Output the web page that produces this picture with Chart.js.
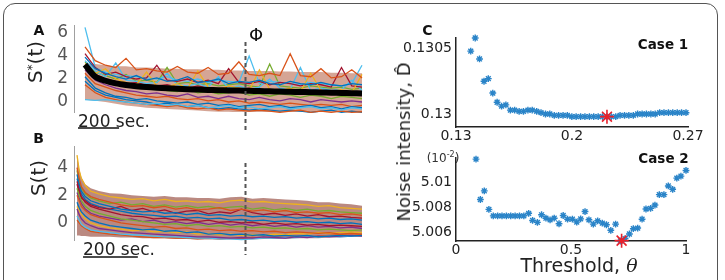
<!DOCTYPE html>
<html><head><meta charset="utf-8">
<script src="https://cdn.jsdelivr.net/npm/chart.js@4/dist/chart.umd.min.js"></script>
<style>
html,body{margin:0;padding:0;background:#fff;width:725px;height:280px;overflow:hidden;font-family:'DejaVu Sans',sans-serif;}
#wrap{position:relative;width:725px;height:280px;overflow:hidden;}
canvas{position:absolute;}
.t{position:absolute;white-space:nowrap;line-height:1;color:#222;}
.frame{position:absolute;left:3px;top:3px;width:715px;height:320px;border:1.5px solid #555;border-radius:12px;box-sizing:border-box;}
</style></head>
<body><div id="wrap">
<div class="frame"></div>
<canvas id="cA" width="370" height="130" style="left:0;top:0"></canvas>
<canvas id="cB" width="370" height="150" style="left:0;top:130px"></canvas>
<canvas id="c1" width="355" height="145" style="left:370px;top:0"></canvas>
<canvas id="c2" width="355" height="135" style="left:370px;top:145px"></canvas>
</div>
<script>
// ---------- Panel A data (time in s) ----------
const tA = [0,50,100,150,200,250,300,350,400,450,500,550,600,650,700,750,800,850,900,950,1000,1050,1100,1150,1200,1250,1300,1350];
const meanA = [3.25,2.2,1.85,1.62,1.48,1.38,1.3,1.24,1.19,1.15,1.11,1.08,1.05,1.03,1.01,0.99,0.97,0.95,0.93,0.91,0.89,0.87,0.85,0.83,0.81,0.79,0.77,0.75];
const upperA = [3.4,3.3,3.2,3.1,3.1,3.0,3.0,2.95,2.9,2.9,2.85,2.85,2.8,2.8,2.75,2.75,2.7,2.7,2.7,2.65,2.65,2.6,2.6,2.6,2.55,2.55,2.5,2.5];
const lowerA = [0.2,0.1,0.0,-0.15,-0.3,-0.4,-0.5,-0.55,-0.6,-0.65,-0.7,-0.75,-0.8,-0.85,-0.85,-0.9,-0.9,-0.95,-0.95,-1.0,-1.0,-1.0,-1.0,-1.05,-1.05,-1.05,-1.05,-1.05];
const traceA1 = [4.8,3.6,3.2,3.0,3.8,2.8,2.9,2.7,2.6,3.1,2.6,2.5,3.0,2.4,2.5,3.5,2.4,2.3,2.5,2.3,4.2,2.3,2.2,2.9,2.1,2.2,2.8,2.1];
const traceA2 = [3.9,2.9,2.5,2.2,2.0,2.3,1.9,2.1,1.8,1.9,2.2,1.7,1.8,2.0,1.6,1.8,1.7,1.9,1.6,1.5,1.8,1.6,1.5,1.7,1.5,1.4,1.6,1.5];
const traceA3 = [3.3,2.5,2.9,2.0,1.7,1.5,2.6,1.4,1.3,1.6,1.2,2.7,1.3,1.1,1.4,1.2,1.0,2.8,1.1,1.0,1.2,0.9,2.5,1.0,0.9,1.1,0.8,2.4];
const traceA4 = [2.8,1.9,1.5,1.2,1.0,0.9,0.7,0.8,0.6,0.5,0.7,0.4,0.5,0.3,0.5,0.3,0.2,0.4,0.2,0.1,0.3,0.2,0.0,0.2,0.1,0.0,0.1,0.0];
const traceA5 = [3.1,2.2,1.8,1.6,1.3,1.4,1.1,1.2,1.0,0.9,1.1,0.8,0.9,0.7,0.8,0.9,0.6,0.7,0.5,0.7,0.6,0.4,0.6,0.5,0.3,0.5,0.4,0.3];
const traceA6 = [0.2,0.15,0.2,0.1,0.0,-0.1,-0.2,-0.1,-0.3,-0.2,-0.4,-0.3,-0.5,-0.4,-0.3,-0.5,-0.4,-0.6,-0.5,-0.4,-0.6,-0.5,-0.4,-0.6,-0.5,-0.7,-0.5,-0.6];
const traceA7 = [4.2,3.0,2.4,2.6,2.2,2.0,2.1,3.2,1.9,1.8,2.0,1.7,1.9,1.6,2.9,1.7,1.6,1.8,1.5,1.7,1.6,1.4,1.6,1.5,1.3,3.0,1.4,1.3];
const traceA8 = [1.5,0.8,0.4,0.2,0.0,-0.1,-0.2,-0.3,-0.4,-0.3,-0.5,-0.6,-0.5,-0.7,-0.6,-0.7,-0.8,-0.7,-0.8,-0.9,-0.8,-0.7,-0.9,-0.8,-0.9,-0.8,-0.9,-0.85];
const traceA9 = [2.2,1.2,0.8,0.5,0.4,0.2,0.3,0.1,0.0,-0.1,0.0,-0.2,-0.1,-0.3,-0.2,-0.4,-0.3,-0.2,-0.4,-0.3,-0.5,-0.4,-0.3,-0.5,-0.4,-0.6,-0.4,-0.5];
const traceA10 = [3.6,2.7,2.2,3.4,1.9,1.8,1.6,1.7,2.5,1.5,1.4,1.6,1.3,2.2,1.2,1.4,1.1,1.3,2.0,1.2,1.1,3.0,1.0,1.2,1.0,1.1,1.9,1.0];
const traceA11 = [6.5,3.0,2.6,2.4,2.3,2.2,2.1,2.0,2.2,1.9,1.8,2.0,1.7,1.9,1.8,1.7,4.0,1.6,1.8,1.7,1.6,1.5,1.7,1.6,1.5,1.4,1.6,3.2];
const traceA12 = [2.5,1.6,1.3,1.0,0.8,0.6,0.5,0.4,0.5,0.3,0.2,0.3,0.1,0.2,0.0,0.1,-0.1,0.0,-0.1,-0.2,-0.1,-0.2,-0.3,-0.2,-0.3,-0.2,-0.4,-0.3];
const traceA13 = [3.0,2.4,2.0,1.8,1.6,1.7,1.5,1.4,1.5,1.3,1.2,1.4,1.2,1.1,1.3,1.1,1.2,1.0,1.1,1.0,0.9,1.1,0.9,1.0,0.8,0.9,0.8,0.7];
const traceA14 = [3.5,2.6,2.3,2.0,2.4,1.8,1.9,1.7,3.0,1.6,1.7,1.5,1.6,1.4,1.5,1.6,1.4,1.3,3.3,1.4,1.3,1.2,1.4,1.3,1.2,1.3,1.1,1.2];
const traceA15 = [1.8,1.0,0.6,0.4,0.2,0.1,0.0,-0.2,-0.1,-0.3,-0.4,-0.3,-0.5,-0.6,-0.5,-0.6,-0.7,-0.6,-0.7,-0.8,-0.7,-0.8,-0.9,-0.8,-0.7,-0.9,-0.8,-0.9];
const ticksA = [0,2,4,6];
const phiA = 780;
const barA = [-34,166];

// ---------- Panel B data ----------
const tB = [0,8,16,30,50,80,120,160,200,240,280,320,360,400,440,480,520,560,600,640,680,720,760,800,840,880,920,960,1000,1040];
const upperB = [4.9,3.9,3.3,2.8,2.5,2.3,2.15,2.1,2.0,1.95,1.9,1.95,1.85,1.85,1.8,1.8,1.75,1.85,1.9,1.75,1.8,1.75,1.7,1.65,1.6,1.5,1.5,1.4,1.35,1.25];
const lowerB = [-0.9,-0.9,-0.95,-0.95,-1.0,-1.0,-1.0,-1.05,-1.05,-1.1,-1.1,-1.1,-1.15,-1.15,-1.2,-1.2,-1.2,-1.2,-1.2,-1.2,-1.15,-1.15,-1.15,-1.1,-1.1,-1.1,-1.05,-1.05,-1.0,-1.0];
const traceB1 = [4.9,3.8,3.2,2.7,2.3,2.1,1.9,1.8,1.7,1.75,1.6,1.7,1.55,1.6,1.5,1.55,1.45,1.6,1.65,1.5,1.55,1.45,1.4,1.35,1.3,1.2,1.25,1.1,1.05,1.0];
const traceB2 = [4.0,3.2,2.6,2.2,1.9,1.7,1.5,1.3,1.2,1.25,1.1,1.2,1.0,1.1,0.95,1.0,1.1,0.9,1.0,0.85,0.95,0.8,0.9,0.75,0.8,0.7,0.75,0.6,0.65,0.55];
const traceB3 = [3.5,2.8,2.3,1.9,1.6,1.4,1.2,1.0,0.9,0.8,0.85,0.7,0.75,0.6,0.7,0.55,0.6,0.5,0.55,0.45,0.5,0.4,0.45,0.35,0.4,0.3,0.35,0.25,0.3,0.2];
const traceB4 = [3.0,2.4,1.9,1.5,1.2,1.0,0.8,0.6,0.5,0.45,0.3,0.35,0.2,0.25,0.1,0.2,0.05,0.1,0.0,0.05,-0.1,0.0,-0.1,-0.05,-0.15,-0.1,-0.2,-0.15,-0.2,-0.25];
const traceB5 = [2.5,2.0,1.6,1.2,0.9,0.7,0.5,0.3,0.2,0.1,0.0,-0.1,-0.05,-0.2,-0.1,-0.25,-0.2,-0.3,-0.25,-0.35,-0.3,-0.4,-0.35,-0.45,-0.4,-0.5,-0.45,-0.5,-0.55,-0.5];
const traceB6 = [2.0,1.6,1.2,0.9,0.6,0.4,0.2,0.0,-0.1,-0.2,-0.3,-0.25,-0.4,-0.35,-0.5,-0.45,-0.55,-0.5,-0.6,-0.55,-0.65,-0.6,-0.7,-0.65,-0.7,-0.75,-0.7,-0.8,-0.75,-0.8];
const traceB7 = [1.5,1.1,0.8,0.5,0.2,0.0,-0.2,-0.3,-0.4,-0.5,-0.45,-0.6,-0.55,-0.7,-0.65,-0.8,-0.75,-0.85,-0.8,-0.9,-0.85,-0.95,-0.9,-0.95,-0.9,-1.0,-0.95,-0.9,-0.95,-0.9];
const traceB8 = [1.0,0.6,0.3,0.0,-0.2,-0.4,-0.5,-0.6,-0.7,-0.75,-0.8,-0.85,-0.9,-0.95,-1.0,-1.0,-1.05,-1.1,-1.05,-1.1,-1.0,-1.05,-1.1,-1.0,-1.05,-0.95,-1.0,-0.95,-0.9,-0.95];
const traceB9 = [0.5,0.2,-0.1,-0.3,-0.5,-0.6,-0.7,-0.8,-0.85,-0.9,-0.95,-1.0,-1.0,-1.05,-1.1,-1.1,-1.15,-1.15,-1.2,-1.15,-1.1,-1.1,-1.05,-1.05,-1.0,-1.0,-0.95,-1.0,-0.95,-0.9];
const traceB10 = [2.8,2.2,1.8,1.6,1.3,1.1,1.0,1.2,0.9,1.05,0.8,0.95,0.7,0.85,0.9,0.65,0.8,0.7,1.0,0.75,0.6,0.7,0.55,0.65,0.5,0.6,0.45,0.5,0.4,0.35];
const traceB11 = [3.8,3.0,2.5,2.1,1.8,1.6,1.4,1.5,1.3,1.4,1.2,1.3,1.15,1.25,1.1,1.2,1.05,1.15,1.2,1.0,1.1,0.95,1.05,0.9,1.0,0.85,0.9,0.8,0.75,0.7];
const traceB12 = [2.2,1.8,1.4,1.0,0.7,0.5,0.35,0.2,0.3,0.1,0.2,0.0,0.1,-0.05,0.05,-0.1,0.0,-0.15,-0.05,-0.2,-0.1,-0.25,-0.15,-0.3,-0.2,-0.3,-0.25,-0.35,-0.3,-0.4];
const traceB13 = [1.2,0.9,0.6,0.3,0.0,-0.2,-0.35,-0.45,-0.55,-0.5,-0.65,-0.6,-0.7,-0.65,-0.8,-0.75,-0.85,-0.8,-0.9,-0.85,-0.9,-0.8,-0.85,-0.75,-0.8,-0.7,-0.75,-0.7,-0.65,-0.7];
const traceB14 = [3.2,2.6,2.1,1.7,1.4,1.2,1.0,0.85,0.7,0.6,0.55,0.45,0.5,0.35,0.4,0.3,0.35,0.2,0.25,0.15,0.2,0.1,0.15,0.05,0.1,0.0,0.05,-0.05,0.0,-0.1];
const traceB15 = [0.2,0.0,-0.2,-0.4,-0.6,-0.7,-0.8,-0.85,-0.95,-1.0,-1.05,-1.05,-1.1,-1.1,-1.15,-1.1,-1.15,-1.1,-1.15,-1.05,-1.1,-1.0,-1.05,-0.95,-1.0,-0.95,-0.9,-0.85,-0.9,-0.85];
const ticksB = [0,2,4];
const phiB = 613;
const barB = [22,222];

// ---------- Panel C, case 1 ----------
const theta1 = [0.1389,0.1416,0.1442,0.1469,0.1495,0.1522,0.1548,0.1575,0.1601,0.1628,0.1654,0.1681,0.1707,0.1734,0.1760,0.1787,0.1813,0.1840,0.1866,0.1893,0.1919,0.1946,0.1972,0.1999,0.2025,0.2052,0.2078,0.2105,0.2131,0.2158,0.2184,0.2211,0.2237,0.2264,0.2290,0.2317,0.2343,0.2370,0.2396,0.2423,0.2449,0.2476,0.2502,0.2529,0.2555,0.2582,0.2608,0.2635,0.2661,0.2688];
const noise1 = [0.13048,0.13058,0.13042,0.13025,0.13027,0.13016,0.13009,0.13006,0.13007,0.13003,0.13003,0.13002,0.13002,0.13003,0.13003,0.13002,0.13001,0.13000,0.13000,0.12999,0.12999,0.12999,0.12999,0.12998,0.12998,0.12998,0.12998,0.12998,0.12998,0.12998,0.12998,0.12998,0.12998,0.12998,0.12999,0.12999,0.12999,0.12999,0.13000,0.13000,0.13000,0.13000,0.13000,0.13001,0.13001,0.13001,0.13001,0.13001,0.13001,0.13001];
const best1 = [0.2211,0.12998];
const xTicks1 = [0.13,0.2,0.27];
const xLabels1 = ['0.13','0.2','0.27'];
const yTicks1 = [0.13,0.1305];
const yLabels1 = ['0.13','0.1305'];

// ---------- Panel C, case 2 (values in units of 10^-2) ----------
const theta2 = [0.087,0.106,0.123,0.143,0.162,0.181,0.200,0.219,0.238,0.257,0.276,0.295,0.316,0.333,0.354,0.372,0.391,0.409,0.427,0.448,0.466,0.485,0.506,0.525,0.542,0.561,0.578,0.597,0.616,0.636,0.654,0.673,0.694,0.715,0.735,0.754,0.771,0.790,0.809,0.826,0.846,0.865,0.884,0.904,0.923,0.942,0.960,0.978,1.000];
const noise2 = [5.01192,5.00864,5.00934,5.00784,5.00731,5.00731,5.00731,5.00731,5.00731,5.00731,5.00731,5.00731,5.00752,5.00694,5.00678,5.0074,5.00712,5.00699,5.00712,5.00667,5.00734,5.00704,5.00704,5.0068,5.00707,5.00766,5.00699,5.00664,5.00691,5.00672,5.00659,5.00614,5.00664,5.00527,5.00547,5.00584,5.00627,5.00632,5.00704,5.00787,5.00792,5.00819,5.00904,5.00904,5.00974,5.00947,5.01038,5.01054,5.011];
const best2 = [0.72,5.0053];
const xTicks2 = [0,0.5,1];
const xLabels2 = ['0','0.5','1'];
const yTicks2 = [5.006,5.008,5.01];
const yLabels2 = ['5.006','5.008','5.01'];

// ---------- helpers ----------
Chart.defaults.font.family = "'DejaVu Sans', sans-serif";
const pal = ['#0072BD','#D95319','#EDB120','#7E2F8E','#77AC30','#4DBEEE','#A2142F'];
const zip = (xs, ys) => xs.map((x,i)=>({x, y: ys[i]}));
const fixedTicks = (vals) => (s) => { s.ticks = vals.map(v=>({value:v})); };
const lbl = (labels, vals) => (v) => { const i = vals.findIndex(t => Math.abs(t-v) < 1e-9); return i >= 0 ? labels[i] : ''; };

function traceSet(ts, arr, color) {
  return {data: zip(ts, arr), borderColor: color, borderWidth: 1.3, pointRadius: 0, tension: 0, order: 1, clip: false};
}
function envSets(ts, up, lo, col) {
  return [
    {data: zip(ts, up), borderWidth: 0, borderColor: 'rgba(0,0,0,0)', backgroundColor: col, fill: '+1', pointRadius: 0, order: 5},
    {data: zip(ts, lo), borderWidth: 0, borderColor: 'rgba(0,0,0,0)', pointRadius: 0, fill: false, order: 5}
  ];
}
function seriesOpts(xmin, xmax, ymin, ymax, yt, padding) {
  return {
    responsive: false, animation: false, devicePixelRatio: 1,
    layout: {padding},
    plugins: {legend: {display: false}, tooltip: {enabled: false}},
    scales: {
      x: {type: 'linear', min: xmin, max: xmax, display: false},
      y: {type: 'linear', min: ymin, max: ymax,
          afterBuildTicks: fixedTicks(yt),
          afterFit: s => { s.width = 74; },
          grid: {display: false, drawTicks: false},
          border: {display: true, color: '#a0a0a0', width: 1},
          ticks: {font: {size: 17}, color: '#555', padding: 6, callback: v => String(v)}}
    }
  };
}
function annPlugin(phi, y0, y1, bar, by) {
  return {id: 'ann', afterDraw(c) {
    const ctx = c.ctx, x = c.scales.x;
    ctx.save();
    ctx.setLineDash([4,3]); ctx.strokeStyle = '#555'; ctx.lineWidth = 2;
    const px = Math.round(x.getPixelForValue(phi)) + 0.5;
    ctx.beginPath(); ctx.moveTo(px, y0); ctx.lineTo(px, y1); ctx.stroke();
    ctx.setLineDash([]); ctx.strokeStyle = '#111'; ctx.lineWidth = 1.5;
    ctx.beginPath(); ctx.moveTo(x.getPixelForValue(bar[0]), by); ctx.lineTo(x.getPixelForValue(bar[1]), by); ctx.stroke();
    ctx.restore();
  }};
}

// ---------- Chart A ----------
const tracesA = [traceA1,traceA2,traceA3,traceA4,traceA5,traceA6,traceA7,traceA8,traceA9,traceA10,traceA11,traceA12,traceA13,traceA14,traceA15];
const colA = [pal[1],pal[0],pal[2],pal[3],pal[4],pal[5],pal[6],pal[1],pal[0],pal[5],pal[5],pal[1],pal[6],pal[4],pal[0]];
new Chart(document.getElementById('cA'), {
  type: 'line',
  data: {datasets: [
    {data: zip(tA, meanA), borderColor: '#000', borderWidth: 6, pointRadius: 0, tension: 0.3, order: 0, clip: false},
    ...tracesA.map((a,i)=>traceSet(tA, a, colA[i])),
    ...envSets(tA, upperA, lowerA, 'rgba(185,105,78,0.6)')
  ]},
  options: seriesOpts(-53.6, 1350, -0.87, 6.7, ticksA, {top: 25, right: 8, bottom: 18, left: 0}),
  plugins: [annPlugin(phiA, 42, 130, barA, 128)]
});

// ---------- Chart B ----------
const tracesB = [traceB1,traceB2,traceB3,traceB4,traceB5,traceB6,traceB7,traceB8,traceB9,traceB10,traceB11,traceB12,traceB13,traceB14,traceB15];
const colB = [pal[2],pal[1],pal[0],pal[6],pal[4],pal[1],pal[0],pal[3],pal[5],pal[6],pal[4],pal[3],pal[2],pal[0],pal[1]];
new Chart(document.getElementById('cB'), {
  type: 'line',
  data: {datasets: [
    ...tracesB.map((a,i)=>traceSet(tB, a, colB[i])),
    ...envSets(tB, upperB, lowerB, 'rgba(160,92,80,0.72)')
  ]},
  options: seriesOpts(-11, 1040, -1.23, 5.54, ticksB, {top: 0, right: 8, bottom: 40, left: 0}),
  plugins: [annPlugin(phiB, 33, 125, barB, 127)]
});

// ---------- Chart C (two cases) ----------
function caseOpts(xmin, xmax, ymin, ymax, xt, xl, yt, yl, padding, xh) {
  return {
    responsive: false, animation: false, devicePixelRatio: 1,
    layout: {padding},
    plugins: {legend: {display: false}, tooltip: {enabled: false}},
    scales: {
      x: {type: 'linear', min: xmin, max: xmax,
          afterBuildTicks: fixedTicks(xt), afterFit: s => { s.height = xh; },
          grid: {display: false, drawTicks: false},
          border: {display: true, color: '#222', width: 1.5},
          ticks: {font: {size: 14}, color: '#222', padding: 1, maxRotation: 0, autoSkip: false, callback: lbl(xl, xt)}},
      y: {type: 'linear', min: ymin, max: ymax,
          afterBuildTicks: fixedTicks(yt), afterFit: s => { s.width = 86; },
          grid: {display: false, drawTicks: false},
          border: {display: true, color: '#222', width: 1.5},
          ticks: {font: {size: 14}, color: '#222', padding: 4, autoSkip: false, callback: lbl(yl, yt)}}
    }
  };
}
function caseData(xs, ys, best) {
  return {datasets: [
    {data: [{x: best[0], y: best[1]}], pointStyle: 'star', pointRadius: 7, borderColor: '#e8202a', backgroundColor: '#e8202a', borderWidth: 1.6, showLine: false, order: 0, clip: false},
    {data: zip(xs, ys), pointStyle: 'star', pointRadius: 3.4, borderColor: '#2a84c8', backgroundColor: '#2a84c8', borderWidth: 1.4, showLine: false, order: 1, clip: false}
  ]};
}
new Chart(document.getElementById('c1'), {
  type: 'scatter',
  data: caseData(theta1, noise1, best1),
  options: caseOpts(0.13, 0.27, 0.129901, 0.13058, xTicks1, xLabels1, yTicks1, yLabels1, {top: 38, right: 37, bottom: 0, left: 0}, 18)
});
new Chart(document.getElementById('c2'), {
  type: 'scatter',
  data: caseData(theta2, noise2, best2),
  options: caseOpts(0, 1, 5.00527, 5.01206, xTicks2, xLabels2, yTicks2, yLabels2, {top: 10, right: 39, bottom: 0, left: 0}, 39)
});

// ---------- text ----------
const wrap = document.getElementById('wrap');
function txt(html, x, y, css, mode) {
  const d = document.createElement('div');
  d.className = 't'; d.innerHTML = html;
  d.style.cssText += css;
  d.style.left = x + 'px'; d.style.top = y + 'px';
  d.style.transform = mode === 'rot' ? 'translate(-50%,-50%) rotate(-90deg)' : (mode === 'left' ? 'translate(0,-50%)' : 'translate(-50%,-50%)');
  wrap.appendChild(d);
}
txt('A', 39, 30, 'font-weight:bold;font-size:14px;color:#111;');
txt('B', 38.5, 138, 'font-weight:bold;font-size:14px;color:#111;');
txt('C', 427.5, 30, 'font-weight:bold;font-size:14px;color:#111;');
txt('Φ', 256, 35, 'font-size:18px;color:#111;');
txt('200 sec.', 78, 121, 'font-size:17px;color:#222;', 'left');
txt('200 sec.', 83, 249, 'font-size:17px;color:#222;', 'left');
txt('S<sup style="font-size:12px;vertical-align:6px">*</sup>(t)', 35, 62, 'font-size:20px;color:#222;', 'rot');
txt('S(t)', 38, 178, 'font-size:20px;color:#222;', 'rot');
txt('Noise intensity, D&#770;', 404, 142, 'font-size:18px;color:#222;', 'rot');
txt('Threshold, <i style="font-family:\'DejaVu Serif\',serif">θ</i>', 579, 265, 'font-size:19px;color:#222;');
txt('Case 1', 663, 45, 'font-weight:bold;font-size:13.5px;color:#111;');
txt('Case 2', 663.5, 159, 'font-weight:bold;font-size:13.5px;color:#111;');
txt('(10<sup style="font-size:8px;vertical-align:5px">-2</sup>)', 443, 157, 'font-size:12px;color:#333;');
</script>
</body></html>
